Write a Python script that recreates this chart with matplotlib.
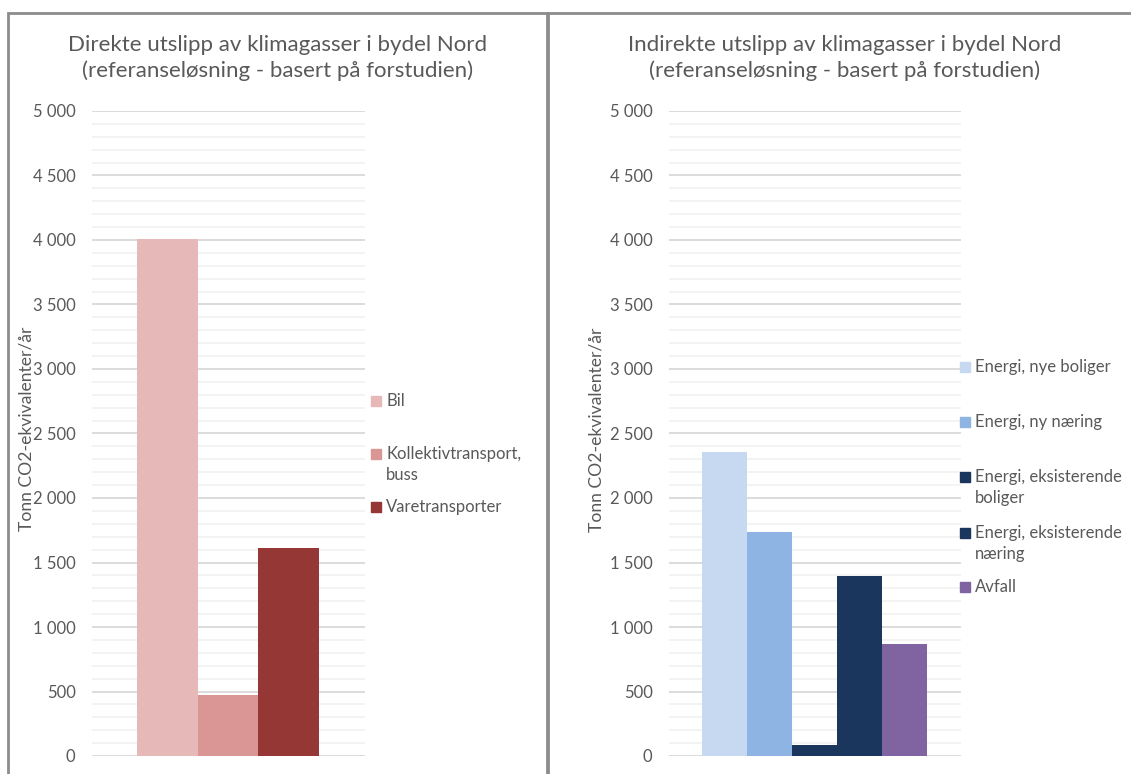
import matplotlib
matplotlib.use("Agg")
import matplotlib.pyplot as plt
from matplotlib.patches import Rectangle
from matplotlib.ticker import MultipleLocator, FuncFormatter

# direkte utslipp (tonn CO2-ekv/år)
direkte_navn = ["Bil", "Kollektivtransport,\nbuss", "Varetransporter"]
direkte_verdi = [4010, 475, 1612]
direkte_farge = ["#E6B9B8", "#D99694", "#953735"]

# indirekte utslipp (tonn CO2-ekv/år)
indirekte_navn = ["Energi, nye boliger", "Energi, ny næring",
                  "Energi, eksisterende\nboliger", "Energi, eksisterende\nnæring", "Avfall"]
indirekte_verdi = [2355, 1740, 87, 1398, 870]
indirekte_farge = ["#C6D9F1", "#8EB4E3", "#1B365D", "#1B365D", "#8064A2"]

titler = ["Direkte utslipp av klimagasser i bydel Nord\n(referanseløsning - basert på forstudien)",
          "Indirekte utslipp av klimagasser i bydel Nord\n(referanseløsning - basert på forstudien)"]
ylabel = "Tonn CO2-ekvivalenter/år"

W, H = 1131, 774
grå = "#595959"
plt.rcParams['font.family'] = ['Lato', 'DejaVu Sans']

fig = plt.figure(figsize=(W/100, H/100), dpi=100)

def px(x0, y0, w, h):
    # piksler (fra øvre venstre hjørne) -> figurkoordinater
    return [x0/W, 1 - (y0 + h)/H, w/W, h/H]

def tusen(v, pos):
    return "{:,}".format(int(v)).replace(",", " ")

def tegn(ax, verdier, farger):
    n = len(verdier)
    ax.bar(range(n), verdier, width=1.0, color=farger, align='edge', zorder=3)
    ax.set_xlim(-0.75, n + 0.75)
    ax.set_ylim(0, 5000)
    ax.yaxis.set_major_locator(MultipleLocator(500))
    ax.yaxis.set_minor_locator(MultipleLocator(100))
    ax.yaxis.set_major_formatter(FuncFormatter(tusen))
    ax.grid(axis='y', which='major', color="#D9D9D9", lw=1.3, zorder=1)
    ax.grid(axis='y', which='minor', color="#F2F2F2", lw=1.3, zorder=0)
    ax.set_axisbelow(True)
    for s in ax.spines.values():
        s.set_visible(False)
    ax.set_xticks([])
    ax.tick_params(axis='y', which='both', length=0, pad=11.5, labelsize=12, labelcolor=grå)
    ax.set_ylabel(ylabel, fontsize=12.6, color=grå)

def legende(x_boks, x_tekst, ys, navn, farger):
    for y, t, f in zip(ys, navn, farger):
        fig.patches.append(Rectangle((x_boks/W, 1 - (y + 5)/H), 10/W, 10/H,
                                     transform=fig.transFigure, color=f, figure=fig))
        fig.text(x_tekst/W, 1 - (y - 8)/H, t, fontsize=12, color=grå,
                 va='top', ha='left', linespacing=1.4)

# rammer rundt de to diagrammene
fig.patches.append(Rectangle((8/W, -0.05), 539/W, 1.05 - 13/H, transform=fig.transFigure,
                             fill=False, ec="#8C8C8C", lw=2, figure=fig))
fig.patches.append(Rectangle((548/W, -0.05), 600/W, 1.05 - 13/H, transform=fig.transFigure,
                             fill=False, ec="#8C8C8C", lw=2, figure=fig))

ax1 = fig.add_axes(px(91.5, 111, 273, 645))
tegn(ax1, direkte_verdi, direkte_farge)
ax1.yaxis.set_label_coords((34 - 91.5)/273, 0.508)

ax2 = fig.add_axes(px(668.5, 111, 292.5, 645))
tegn(ax2, indirekte_verdi, indirekte_farge)
ax2.yaxis.set_label_coords((605 - 668.5)/292.5, 0.505)

fig.text(277.5/W, 1 - 58/H, titler[0], fontsize=16, color=grå, ha='center', va='center',
         linespacing=1.28)
fig.text(844.5/W, 1 - 58/H, titler[1], fontsize=16, color=grå, ha='center', va='center',
         linespacing=1.28)

legende(371, 386, [401, 454, 507], direkte_navn, direkte_farge)
legende(960, 975, [367, 422, 477, 533, 587], indirekte_navn, indirekte_farge)

fig.savefig("out.png", dpi=100, facecolor="white")
